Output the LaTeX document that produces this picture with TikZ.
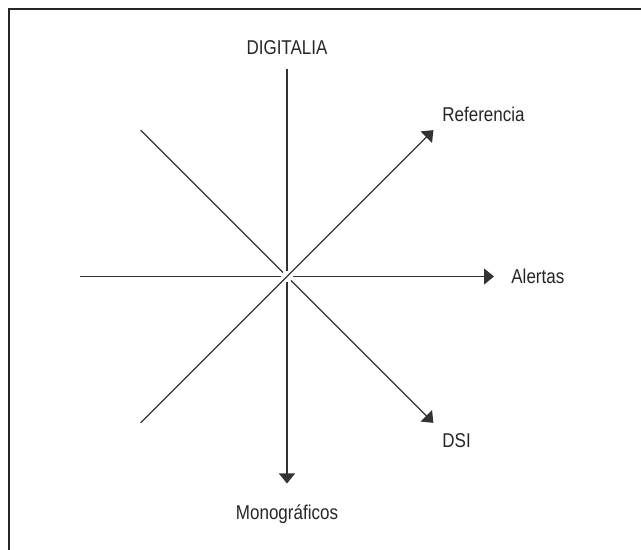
\documentclass[tikz,border=0pt]{standalone}
\usepackage{fontspec}
\setmainfont{Liberation Sans}[FakeStretch=0.85]
\usetikzlibrary{calc}
\usetikzlibrary{arrows.meta}

\begin{document}
\begin{tikzpicture}[x=0.5pt, y=0.5pt, font=\fontsize{10pt}{12pt}\selectfont]
    \tikzset{
      eje/.style={line width=0.6pt, black!80},
      flecha/.style={eje, -{Triangle[length=5pt, width=8pt]}},
      etiqueta/.style={inner sep=0pt, text=black!85, anchor=base}
    }
    \useasboundingbox (0, 0) rectangle (641, 550);
    
    % marco (solo se ven los lados de arriba y de la izquierda)
    \draw[line width=1pt, black!85] (8.5, -2) -- (8.5, 540.5) -- (645, 540.5);
    
    \coordinate (centro) at (287, 273.5);
    \foreach \ang/\nom in {0/e, 45/ne, 90/n, 135/nw, 180/w, 225/sw, 270/s, 315/se}{
      \coordinate (\nom) at ($(centro)+(\ang:207)$);
    }
    
    \draw[flecha] ($(centro)!2.8pt!(e)$) -- (e);
    \draw[eje] ($(centro)!2.8pt!(w)$) -- (w);
    \draw[eje] ($(centro)!2.8pt!(n)$) -- (n);
    \draw[flecha] ($(centro)!2.8pt!(s)$) -- (s);
    \draw[eje] ($(centro)!2.8pt!(nw)$) -- (nw);
    \draw[flecha] ($(centro)!2.8pt!(se)$) -- (se);
    \draw[flecha] (sw) -- (ne);
    
    \node[etiqueta] (digitalia) at (287, 495) {DIGITALIA};
    \node[etiqueta, anchor=base west] (referencia) at (442, 428) {Referencia};
    \node[etiqueta, anchor=base west] (alertas) at (511, 266) {Alertas};
    \node[etiqueta, anchor=base west] (dsi) at (442, 102) {DSI};
    \node[etiqueta] (monograficos) at (287, 30) {Monográficos};
\end{tikzpicture}
\end{document}
